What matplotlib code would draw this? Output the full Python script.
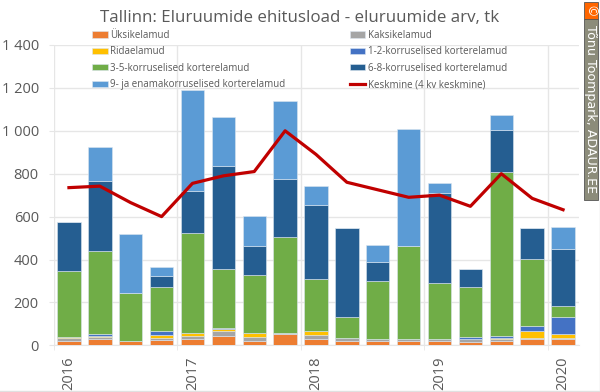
"""Tallinn dwelling building permits, stacked by quarter."""
import numpy as np
import matplotlib.pyplot as plt
from matplotlib.patches import Rectangle

plt.rcParams['font.family'] = ['Open Sans', 'DejaVu Sans']

# ============================================================
# Data (one value per quarter)
# ============================================================
year_labels = ['2016', '', '', '', '2017', '', '', '', '2018', '', '', '', '2019', '', '', '', '2020']
yksik = [20, 30, 20, 25, 30, 44, 20, 52, 28, 22, 20, 20, 22, 17, 20, 30, 31]
kaksik = [16, 8, 2, 10, 12, 23, 18, 6, 22, 12, 9, 9, 6, 13, 11, 6, 4]
rida = [2, 5, 0, 12, 15, 7, 20, 0, 15, 0, 0, 1, 0, 0, 3, 31, 17]
k12 = [0, 10, 0, 20, 0, 7, 0, 0, 0, 0, 0, 0, 0, 8, 11, 23, 80]
k35 = [309, 387, 221, 203, 468, 276, 270, 447, 245, 96, 269, 432, 262, 232, 765, 313, 51]
k68 = [228, 328, 0, 53, 195, 481, 137, 270, 345, 418, 89, 0, 418, 88, 195, 142, 267]
k9 = [0, 157, 277, 44, 470, 227, 138, 365, 88, 0, 81, 548, 49, 0, 70, 0, 100]
keskmine = [735, 742, 665, 600, 755, 790, 810, 1000, 890, 760, 725, 690, 700, 648, 800, 685, 632]

series = [
    ('Üksikelamud', yksik, '#ED7D31'),
    ('Kaksikelamud', kaksik, '#A5A5A5'),
    ('Ridaelamud', rida, '#FFC000'),
    ('1-2-korruselised korterelamud', k12, '#4472C4'),
    ('3-5-korruselised korterelamud', k35, '#70AD47'),
    ('6-8-korruselised korterelamud', k68, '#255E91'),
    ('9- ja enamakorruselised korterelamud', k9, '#5B9BD5'),
]

GRAY = '#595959'
LIGHT = '#E6E6E6'
x = np.arange(len(yksik))

# ============================================================
# Plot
# ============================================================
fig = plt.figure(figsize=(6.0, 3.92), dpi=100)
ax = fig.add_axes([53.5 / 600, 1 - 345.3 / 392, 525 / 600, 300.3 / 392])

bottom = np.zeros(len(x))
for name, values, color in series:
    ax.bar(x, values, bottom=bottom, width=0.76, color=color, edgecolor='#DCE6F0',
           linewidth=0.4, label=name, zorder=3)
    bottom += np.array(values)

ax.plot(x, keskmine, color='#C00000', linewidth=2.3, label='Keskmine (4 kv keskmine)', zorder=4)

ax.set_xlim(-0.5, len(x) - 0.5)
ax.set_ylim(0, 1400)
ax.set_yticks(range(0, 1401, 200))
ax.set_yticklabels(['0', '200', '400', '600', '800', '1 000', '1 200', '1 400'], fontsize=10.5, color=GRAY)
ax.yaxis.grid(True, color=LIGHT, linewidth=1, zorder=0)

# year separators sit between the quarters, labels under the first quarter of each year
seps = np.arange(-0.5, len(x), 4)
for sep in seps:
    ax.axvline(sep, color=LIGHT, linewidth=1, zorder=1)
ax.set_xticks(x)
ax.set_xticklabels(year_labels, rotation=90, fontsize=10.5, color=GRAY)
ax.set_xticks(seps, minor=True)
ax.tick_params(axis='x', which='major', length=0, pad=8)
ax.tick_params(axis='x', which='minor', length=3.6, color=LIGHT)
ax.tick_params(axis='y', length=3.6, color=LIGHT, pad=7)
for side in ['top', 'right', 'left']:
    ax.spines[side].set_visible(False)
ax.spines['bottom'].set_color(LIGHT)

fig.text(300 / 600, 1 - 18 / 392, 'Tallinn: Eluruumide ehitusload - eluruumide arv, tk',
         fontsize=12.2, color=GRAY, ha='center', va='center')

handles, labels = ax.get_legend_handles_labels()
by_label = dict(zip(labels, handles))
# legend fills by column, reference reads by row
order = ['Üksikelamud', 'Ridaelamud', '3-5-korruselised korterelamud',
         '9- ja enamakorruselised korterelamud', 'Kaksikelamud', '1-2-korruselised korterelamud',
         '6-8-korruselised korterelamud', 'Keskmine (4 kv keskmine)']
ax.legend([by_label[k] for k in order], order, ncol=2, frameon=False, fontsize=7.0,
          labelcolor=GRAY, loc='upper left', bbox_to_anchor=(38.5 / 525, 1.05),
          handlelength=1.6, handleheight=0.6, handletextpad=0.3, columnspacing=6.6,
          labelspacing=0.55, borderpad=0, borderaxespad=0)

# copyright stamp on the right edge
fig.add_artist(Rectangle((584 / 600, 1 - 200 / 392), 14 / 600, 181 / 392, transform=fig.transFigure,
                         facecolor='#8C8C7A', edgecolor='#555555', linewidth=0.6))
fig.add_artist(Rectangle((584 / 600, 1 - 19 / 392), 14 / 600, 17 / 392, transform=fig.transFigure,
                         facecolor='#FF6600', edgecolor='#555555', linewidth=0.6))
fig.text(591 / 600, 1 - 10.5 / 392, '©', color='white', fontsize=9, rotation=270, ha='center', va='center')
fig.text(591 / 600, 1 - 109 / 392, 'Tõnu Toompark, ADAUR.EE', color='white', fontsize=9.1, rotation=270,
         ha='center', va='center', family='DejaVu Sans')

# thin frame of the screenshot
fig.add_artist(plt.Line2D([599.5 / 600, 599.5 / 600], [1 - 390.5 / 392, 1], color='#E0E0E0', linewidth=1))
fig.add_artist(plt.Line2D([0, 600 / 600], [1 - 390.5 / 392, 1 - 390.5 / 392], color='#E0E0E0', linewidth=1))

plt.savefig('out.png', dpi=100)
